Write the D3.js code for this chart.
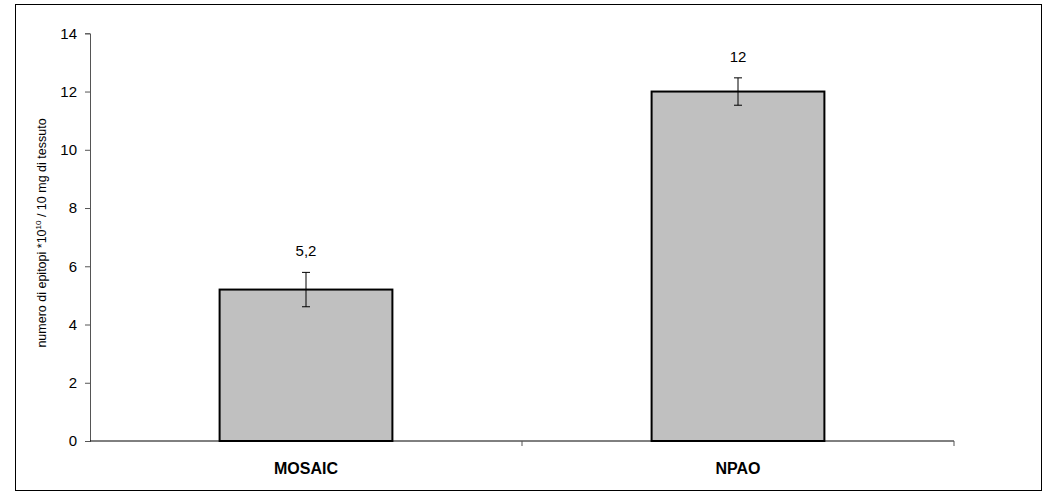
<!DOCTYPE html>
<html><head><meta charset="utf-8">
<script src="https://cdn.jsdelivr.net/npm/d3@7"></script>
<style>body{margin:0;background:#fff}svg{display:block;font-family:"Liberation Sans",Arial,sans-serif}</style>
</head><body><svg id="c" width="1046" height="492"></svg>
<script>
const categories = ["MOSAIC", "NPAO"];
const values = [5.2, 12];
const errors = [0.59, 0.47];
const valueLabels = ["5,2", "12"];
const yTicks = [0, 2, 4, 6, 8, 10, 12, 14];

const svg = d3.select("#c");
const m = {left: 90, right: 954, top: 33.3, bottom: 441};
svg.append("rect").attr("x", 15.5).attr("y", 4.5).attr("width", 1026).attr("height", 486)
  .attr("fill", "none").attr("stroke", "#000").attr("stroke-width", 1);

const x = d3.scaleBand().domain(categories).range([m.left, m.right]).padding(0);
const y = d3.scaleLinear().domain([0, 14]).range([m.bottom, m.top]);
const bw = x.bandwidth() * 0.4;

// y axis
const ya = svg.append("g").attr("transform", `translate(${m.left},0)`)
  .call(d3.axisLeft(y).tickValues(yTicks).tickSize(5).tickPadding(8).tickFormat(d3.format("d")));
ya.select(".domain").attr("stroke", "#555");
ya.selectAll(".tick line").attr("stroke", "#555");
ya.selectAll("text").attr("font-size", 15).attr("fill", "#000").attr("font-family", "Liberation Sans, Arial, sans-serif");

// bars
svg.selectAll("rect.bar").data(categories).enter().append("rect").attr("class", "bar")
  .attr("x", d => x(d) + (x.bandwidth() - bw) / 2)
  .attr("y", (d, i) => y(values[i]))
  .attr("width", bw)
  .attr("height", (d, i) => y(0) - y(values[i]))
  .attr("fill", "#c0c0c0").attr("stroke", "#000").attr("stroke-width", 2);

// x axis
const xa = svg.append("g").attr("transform", `translate(0,${m.bottom})`);
xa.append("line").attr("x1", m.left).attr("x2", m.right).attr("y1", 0).attr("y2", 0).attr("stroke", "#000");
const bounds = [m.left, ...categories.map(c => x(c) + x.bandwidth())];
xa.selectAll("line.tk").data(bounds.slice(1)).enter().append("line").attr("class", "tk")
  .attr("x1", d => d).attr("x2", d => d).attr("y1", 0).attr("y2", 5).attr("stroke", "#555");
xa.selectAll("text").data(categories).enter().append("text")
  .attr("x", d => x(d) + x.bandwidth() / 2).attr("y", 32.5)
  .attr("text-anchor", "middle").attr("font-size", 16).attr("font-weight", "bold").text(d => d);

// error bars
const eb = svg.append("g").attr("stroke", "#000").attr("stroke-width", 1);
categories.forEach((c, i) => {
  const cx = x(c) + x.bandwidth() / 2;
  const t = y(values[i] + errors[i]), b = y(values[i] - errors[i]);
  eb.append("line").attr("x1", cx).attr("x2", cx).attr("y1", t).attr("y2", b);
  eb.append("line").attr("x1", cx - 4).attr("x2", cx + 4).attr("y1", t).attr("y2", t);
  eb.append("line").attr("x1", cx - 4).attr("x2", cx + 4).attr("y1", b).attr("y2", b);
  svg.append("text").attr("x", cx).attr("y", t - 16).attr("text-anchor", "middle")
    .attr("font-size", 15).text(valueLabels[i]);
});

// y label
const yl = svg.append("text").attr("transform", "translate(46,233) rotate(-90)")
  .attr("text-anchor", "middle").attr("font-size", 12.5);
yl.append("tspan").text("numero di epitopi *10");
yl.append("tspan").attr("font-size", 8).attr("dy", -5).text("10");
yl.append("tspan").attr("dy", 5).text(" / 10 mg di tessuto");
</script></body></html>
